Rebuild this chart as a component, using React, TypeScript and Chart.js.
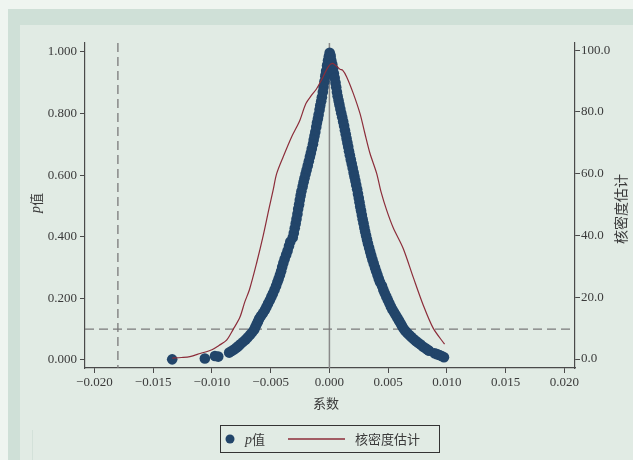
import React, { useEffect, useRef } from "react";
import { Chart, registerables } from "chart.js";

Chart.register(...registerables);

// ---- data ----
const xTicks = [-0.02, -0.015, -0.01, -0.005, 0, 0.005, 0.01, 0.015, 0.02];
const pTicks = [0, 0.2, 0.4, 0.6, 0.8, 1.0];
const densityTicks = [0, 20, 40, 60, 80, 100];

// p-value scatter: [coefficient, p]
const pLeft: [number, number][] = [
  [0.00002, 0.997], [-0.00005, 0.985], [0.00008, 0.99], [-0.00012, 0.972], [-0.0002, 0.955],
  [-0.00015, 0.96], [-0.00028, 0.938], [-0.00035, 0.921], [-0.0003, 0.928], [-0.00042, 0.904],
  [-0.0005, 0.886], [-0.00056, 0.87], [-0.00064, 0.853], [-0.0007, 0.84], [-0.00078, 0.826],
  [-0.00084, 0.812], [-0.00092, 0.796], [-0.00098, 0.783], [-0.00106, 0.77], [-0.00112, 0.756],
  [-0.0012, 0.74], [-0.00127, 0.727], [-0.00134, 0.714], [-0.0014, 0.7], [-0.0015, 0.686],
  [-0.00158, 0.672], [-0.00166, 0.66], [-0.00175, 0.645], [-0.00184, 0.631], [-0.00194, 0.617],
  [-0.00203, 0.604], [-0.00212, 0.59], [-0.0022, 0.577], [-0.00228, 0.563], [-0.00238, 0.548],
  [-0.00245, 0.534], [-0.00252, 0.519], [-0.00258, 0.505], [-0.00266, 0.49], [-0.00272, 0.474],
  [-0.0028, 0.458], [-0.00287, 0.443], [-0.00295, 0.428], [-0.00303, 0.412], [-0.00312, 0.398],
  [-0.00333, 0.384], [-0.00344, 0.37], [-0.00356, 0.355], [-0.00368, 0.342], [-0.00381, 0.328],
  [-0.00392, 0.315], [-0.00402, 0.302], [-0.00411, 0.288], [-0.00421, 0.276], [-0.00432, 0.264],
  [-0.00443, 0.252], [-0.00454, 0.24], [-0.00467, 0.228], [-0.00481, 0.216], [-0.00494, 0.205],
  [-0.00507, 0.194], [-0.00522, 0.183], [-0.00536, 0.172], [-0.00549, 0.162], [-0.00566, 0.152],
  [-0.00583, 0.143], [-0.00598, 0.134], [-0.00608, 0.125], [-0.00619, 0.116], [-0.0063, 0.107],
  [-0.0064, 0.099], [-0.00657, 0.09], [-0.00675, 0.082], [-0.00694, 0.074], [-0.00714, 0.066],
  [-0.00737, 0.058], [-0.00758, 0.051], [-0.00775, 0.045], [-0.00792, 0.04], [-0.00812, 0.034],
  [-0.00832, 0.029], [-0.00853, 0.024], [-0.00946, 0.011], [-0.00974, 0.013], [-0.0106, 0.005],
  [-0.01338, 0.002],
];
const pRight: [number, number][] = [
  [0.0001, 0.985], [0.00016, 0.972], [0.00024, 0.96], [0.00032, 0.946], [0.00038, 0.93],
  [0.00045, 0.915], [0.00052, 0.9], [0.00058, 0.885], [0.00064, 0.87], [0.0007, 0.856],
  [0.00078, 0.842], [0.00085, 0.829], [0.00093, 0.815], [0.00101, 0.801], [0.00109, 0.788],
  [0.00117, 0.774], [0.00125, 0.76], [0.00132, 0.746], [0.00139, 0.733], [0.00146, 0.719],
  [0.00153, 0.705], [0.0016, 0.692], [0.00167, 0.678], [0.00174, 0.665], [0.00182, 0.651],
  [0.0019, 0.637], [0.00198, 0.623], [0.00206, 0.609], [0.00213, 0.596], [0.00221, 0.582],
  [0.00228, 0.568], [0.00236, 0.554], [0.00243, 0.54], [0.0025, 0.526], [0.00256, 0.512],
  [0.00262, 0.498], [0.00269, 0.485], [0.00276, 0.471], [0.00283, 0.457], [0.0029, 0.444],
  [0.00297, 0.43], [0.00304, 0.417], [0.00312, 0.404], [0.0032, 0.391], [0.00328, 0.378],
  [0.00338, 0.364], [0.00347, 0.351], [0.00356, 0.339], [0.00366, 0.326], [0.00377, 0.313],
  [0.00388, 0.3], [0.00398, 0.288], [0.00409, 0.276], [0.0042, 0.264], [0.00431, 0.252],
  [0.00448, 0.24], [0.00459, 0.228], [0.00471, 0.217], [0.00484, 0.206], [0.00497, 0.195],
  [0.0051, 0.184], [0.00523, 0.174], [0.00536, 0.164], [0.0055, 0.155], [0.00564, 0.146],
  [0.00578, 0.137], [0.00592, 0.128], [0.00605, 0.119], [0.00617, 0.111], [0.00629, 0.103],
  [0.00645, 0.095], [0.00662, 0.088], [0.0068, 0.081], [0.00697, 0.075], [0.00716, 0.068],
  [0.00735, 0.062], [0.00755, 0.056], [0.00776, 0.05], [0.00798, 0.043], [0.00818, 0.038],
  [0.00836, 0.033], [0.00848, 0.03], [0.00895, 0.022], [0.00915, 0.019], [0.00935, 0.016],
  [0.00955, 0.013], [0.00975, 0.009],
];

// kernel density estimate: [coefficient, density]
const kdensity: [number, number][] = [
  [-0.01338, 0.3], [-0.0126, 0.5], [-0.01187, 0.8], [-0.011, 1.8], [-0.01, 3.0],
  [-0.0094, 4.4], [-0.00875, 6.1], [-0.00819, 9.6], [-0.00762, 13.5], [-0.0072, 18.5],
  [-0.0068, 22.5], [-0.0062, 31.0], [-0.00563, 40.0], [-0.00515, 48.5], [-0.0048, 54.5],
  [-0.00449, 60.0], [-0.00393, 65.5], [-0.00322, 71.9], [-0.0028, 75.0], [-0.00251, 77.3],
  [-0.002, 82.7], [-0.0015, 85.5], [-0.00109, 87.5], [-0.00053, 91.4], [-0.0001, 94.6],
  [0.00024, 95.7], [0.00061, 94.8], [0.0009, 93.8], [0.00112, 93.5], [0.00146, 91.4],
  [0.00203, 86.0], [0.0026, 79.5], [0.00302, 73.0], [0.00345, 66.6], [0.00402, 60.1],
  [0.0044, 54.0], [0.00487, 48.2], [0.00543, 42.5], [0.00628, 35.8], [0.00713, 26.5],
  [0.00798, 17.5], [0.00883, 10.0], [0.0098, 4.8],
];

const pThreshold = 0.1;
const benchmarkCoef = -0.018;

const SERIF = "'Liberation Serif', 'DejaVu Serif', serif";
const CJK = "'Noto Sans CJK SC', 'Noto Sans', sans-serif";
const TEXT = "#3a3a3a";
const AXIS = "#4a4a4a";
const NAVY = "#22456a";
const RED = "#8c2d3a";

const fmtMinus = (s: string) => s.replace("-", "\u2212");

const decorPlugin = {
  id: "decor",
  beforeDraw(chart: any) {
    const { ctx, width, height } = chart;
    ctx.save();
    ctx.fillStyle = "#eff5f0";
    ctx.fillRect(0, 0, width, height);
    ctx.fillStyle = "#cfe0d7";
    ctx.fillRect(8, 9, width - 8, height - 9);
    ctx.fillStyle = "#e1ebe4";
    ctx.fillRect(20, 25, width - 20, height - 25);
    ctx.strokeStyle = "#d3e1d9";
    ctx.lineWidth = 1;
    ctx.beginPath();
    ctx.moveTo(32.5, 430);
    ctx.lineTo(32.5, height);
    ctx.stroke();
    ctx.restore();
  },
  beforeDatasetsDraw(chart: any) {
    const { ctx, chartArea } = chart;
    const xs = chart.scales.x;
    const ys = chart.scales.y;
    ctx.save();
    // zero line
    const x0 = xs.getPixelForValue(0);
    ctx.strokeStyle = "#8a8a8a";
    ctx.lineWidth = 1.5;
    ctx.beginPath();
    ctx.moveTo(x0, chartArea.top);
    ctx.lineTo(x0, chartArea.bottom);
    ctx.stroke();
    // dashed reference lines
    ctx.strokeStyle = "#7a7a7a";
    ctx.lineWidth = 1.3;
    ctx.setLineDash([9, 5]);
    const yp = ys.getPixelForValue(pThreshold);
    ctx.beginPath();
    ctx.moveTo(chartArea.left, yp);
    ctx.lineTo(chartArea.right, yp);
    ctx.stroke();
    const xb = xs.getPixelForValue(benchmarkCoef);
    ctx.beginPath();
    ctx.moveTo(xb, chartArea.top);
    ctx.lineTo(xb, chartArea.bottom);
    ctx.stroke();
    ctx.restore();
  },
  afterDraw(chart: any) {
    const { ctx } = chart;
    ctx.save();
    ctx.fillStyle = TEXT;
    ctx.textBaseline = "middle";
    // x title
    ctx.font = `13px ${CJK}`;
    ctx.textAlign = "center";
    ctx.fillText("系数", 326, 403);
    // left title "p值"
    ctx.save();
    ctx.translate(36, 203);
    ctx.rotate(-Math.PI / 2);
    ctx.textAlign = "left";
    ctx.font = `italic 14px ${SERIF}`;
    const pw = ctx.measureText("p").width;
    ctx.font = `13px ${CJK}`;
    const vw = ctx.measureText("值").width;
    const start = -(pw + vw) / 2;
    ctx.font = `italic 14px ${SERIF}`;
    ctx.fillText("p", start, 0);
    ctx.font = `13px ${CJK}`;
    ctx.fillText("值", start + pw, 0);
    ctx.restore();
    // right title
    ctx.save();
    ctx.translate(621, 209);
    ctx.rotate(-Math.PI / 2);
    ctx.textAlign = "center";
    ctx.font = `14px ${CJK}`;
    ctx.fillText("核密度估计", 0, 0);
    ctx.restore();
    // legend
    ctx.strokeStyle = "#333";
    ctx.lineWidth = 1;
    ctx.strokeRect(220.5, 425.5, 219, 27);
    ctx.fillStyle = NAVY;
    ctx.beginPath();
    ctx.arc(230, 439, 4.5, 0, Math.PI * 2);
    ctx.fill();
    ctx.fillStyle = TEXT;
    ctx.textAlign = "left";
    ctx.font = `italic 14px ${SERIF}`;
    ctx.fillText("p", 245, 440);
    const pw2 = ctx.measureText("p").width;
    ctx.font = `13px ${CJK}`;
    ctx.fillText("值", 245 + pw2, 439);
    ctx.strokeStyle = RED;
    ctx.lineWidth = 1.3;
    ctx.beginPath();
    ctx.moveTo(288, 439);
    ctx.lineTo(345, 439);
    ctx.stroke();
    ctx.fillStyle = TEXT;
    ctx.font = `13px ${CJK}`;
    ctx.fillText("核密度估计", 355, 439);
    ctx.restore();
  },
};

export default function App() {
  const ref = useRef<HTMLCanvasElement>(null);
  useEffect(() => {
    if (!ref.current) return;
    const scatterPts = [...pLeft, ...pRight].map(([x, y]) => ({ x, y }));
    const densPts = kdensity.map(([x, y]) => ({ x, y }));
    const chart = new Chart(ref.current, {
      type: "scatter",
      data: {
        datasets: [
          {
            label: "核密度估计",
            data: densPts,
            yAxisID: "y2",
            showLine: true,
            borderColor: RED,
            borderWidth: 1.2,
            pointRadius: 0,
            tension: 0.3,
            order: 0,
          } as any,
          {
            label: "p值",
            data: scatterPts,
            yAxisID: "y",
            backgroundColor: NAVY,
            borderColor: NAVY,
            borderWidth: 0,
            pointRadius: 5.3,
            order: 1,
          } as any,
        ],
      },
      options: {
        animation: false,
        responsive: false,
        events: [],
        layout: { padding: { top: 43, left: 0, right: 0, bottom: 0 } },
        plugins: { legend: { display: false }, tooltip: { enabled: false } },
        scales: {
          x: {
            type: "linear",
            min: -0.0208,
            max: 0.0209,
            afterBuildTicks: (s: any) => {
              s.ticks = xTicks.map((v) => ({ value: v }));
            },
            afterFit: (s: any) => {
              s.height = 92;
            },
            border: { display: true, color: AXIS, width: 1.2 },
            grid: { display: true, drawOnChartArea: false, drawTicks: true, tickLength: 5, color: AXIS, lineWidth: 1 },
            ticks: {
              padding: 2,
              color: TEXT,
              font: { family: SERIF, size: 13 },
              maxRotation: 0,
              callback: (v: any) => fmtMinus(Number(v).toFixed(3)),
            },
          },
          y: {
            type: "linear",
            position: "left",
            min: -0.026,
            max: 1.029,
            afterBuildTicks: (s: any) => {
              s.ticks = pTicks.map((v) => ({ value: v }));
            },
            afterFit: (s: any) => {
              s.width = 85;
            },
            border: { display: true, color: AXIS, width: 1.2 },
            grid: { display: true, drawOnChartArea: false, drawTicks: true, tickLength: 5, color: AXIS, lineWidth: 1 },
            ticks: {
              padding: 3,
              color: TEXT,
              font: { family: SERIF, size: 13 },
              callback: (v: any) => Number(v).toFixed(3),
            },
          },
          y2: {
            type: "linear",
            position: "right",
            min: -2.9,
            max: 102.3,
            afterBuildTicks: (s: any) => {
              s.ticks = densityTicks.map((v) => ({ value: v }));
            },
            afterFit: (s: any) => {
              s.width = 58;
            },
            border: { display: true, color: AXIS, width: 1.2 },
            grid: { display: true, drawOnChartArea: false, drawTicks: true, tickLength: 5, color: AXIS, lineWidth: 1 },
            ticks: {
              padding: 1,
              color: TEXT,
              font: { family: SERIF, size: 13 },
              callback: (v: any) => Number(v).toFixed(1),
            },
          },
        },
      } as any,
      plugins: [decorPlugin],
    });
    return () => chart.destroy();
  }, []);
  return (
    <div style={{ position: "fixed", left: 0, top: 0, width: 633, height: 460 }}>
      <canvas ref={ref} width={633} height={460} style={{ display: "block", width: 633, height: 460 }} />
    </div>
  );
}
